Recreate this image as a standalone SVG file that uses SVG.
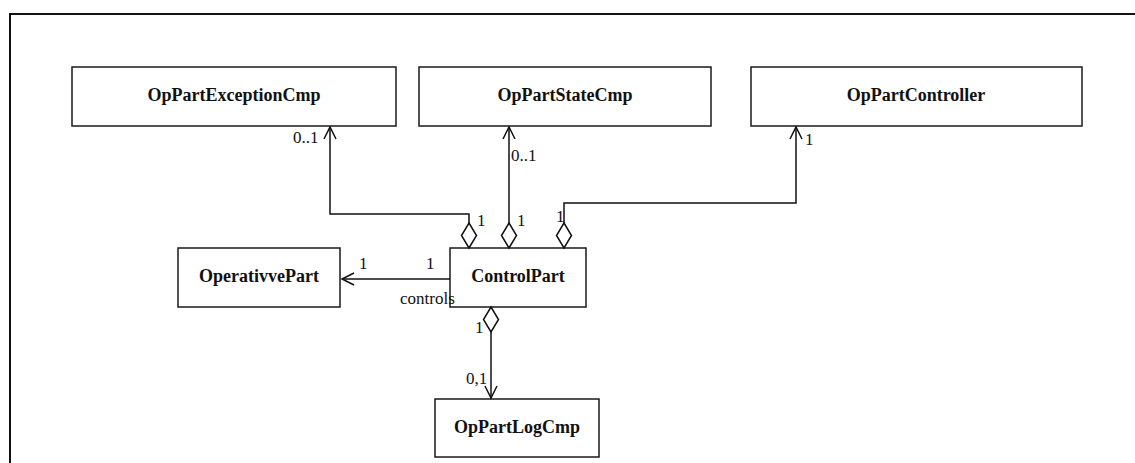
<svg xmlns="http://www.w3.org/2000/svg" width="1135" height="463" viewBox="0 0 1135 463">
<style>
.box{fill:#fff;stroke:#1a1a1a;stroke-width:1.5}
.nm{font-family:"Liberation Serif",serif;font-weight:bold;font-size:18px;fill:#111;text-anchor:middle}
.lb{font-family:"Liberation Serif",serif;font-size:17px;fill:#111}
.ln{fill:none;stroke:#111;stroke-width:1.5}
.dm{fill:#fff;stroke:#111;stroke-width:1.5}
</style>
<rect width="1135" height="463" fill="#fff"/>
<rect x="10" y="14" width="1200" height="500" fill="none" stroke="#111" stroke-width="2"/>
<g id="OpPartExceptionCmp"><rect class="box" x="72" y="67" width="324" height="59"/><text class="nm" x="234" y="101">OpPartExceptionCmp</text></g>
<g id="OpPartStateCmp"><rect class="box" x="419" y="67" width="292" height="59"/><text class="nm" x="565" y="101">OpPartStateCmp</text></g>
<g id="OpPartController"><rect class="box" x="751" y="67" width="331" height="59"/><text class="nm" x="916" y="101">OpPartController</text></g>
<g id="OperativvePart"><rect class="box" x="178" y="248" width="162" height="59"/><text class="nm" x="259" y="282">OperativvePart</text></g>
<g id="ControlPart"><rect class="box" x="450" y="248" width="136" height="59"/><text class="nm" x="518" y="282">ControlPart</text></g>
<g id="OpPartLogCmp"><rect class="box" x="435" y="399" width="164" height="58"/><text class="nm" x="517" y="433">OpPartLogCmp</text></g>
<g id="connectors">
<path class="ln" d="M330,127 V214 H469 V223"/>
<path class="ln" d="M324,139 L330,127 L336,139"/>
<path class="dm" d="M469,223 L476.5,235.5 L469,248 L461.5,235.5 Z"/>
<text class="lb" x="293" y="143">0..1</text>
<text class="lb" x="477" y="226">1</text>
<path class="ln" d="M509,127 V223"/>
<path class="ln" d="M503,139 L509,127 L515,139"/>
<path class="dm" d="M509,223 L516.5,235.5 L509,248 L501.5,235.5 Z"/>
<text class="lb" x="511" y="161">0..1</text>
<text class="lb" x="517" y="226">1</text>
<path class="ln" d="M796,127 V203 H564 V223"/>
<path class="ln" d="M790,139 L796,127 L802,139"/>
<path class="dm" d="M564,223 L571.5,235.5 L564,248 L556.5,235.5 Z"/>
<text class="lb" x="805" y="145">1</text>
<text class="lb" x="556" y="222">1</text>
<path class="ln" d="M450,279 H342"/>
<path class="ln" d="M354,273 L342,279 L354,285"/>
<text class="lb" x="359" y="269">1</text>
<text class="lb" x="426" y="269">1</text>
<text class="lb" x="400" y="304">controls</text>
<path class="dm" d="M491,307 L498.5,319.5 L491,332 L483.5,319.5 Z"/>
<path class="ln" d="M491,332 V398"/>
<path class="ln" d="M485,386 L491,398 L497,386"/>
<text class="lb" x="475" y="333">1</text>
<text class="lb" x="466" y="384">0,1</text>
</g>
</svg>
